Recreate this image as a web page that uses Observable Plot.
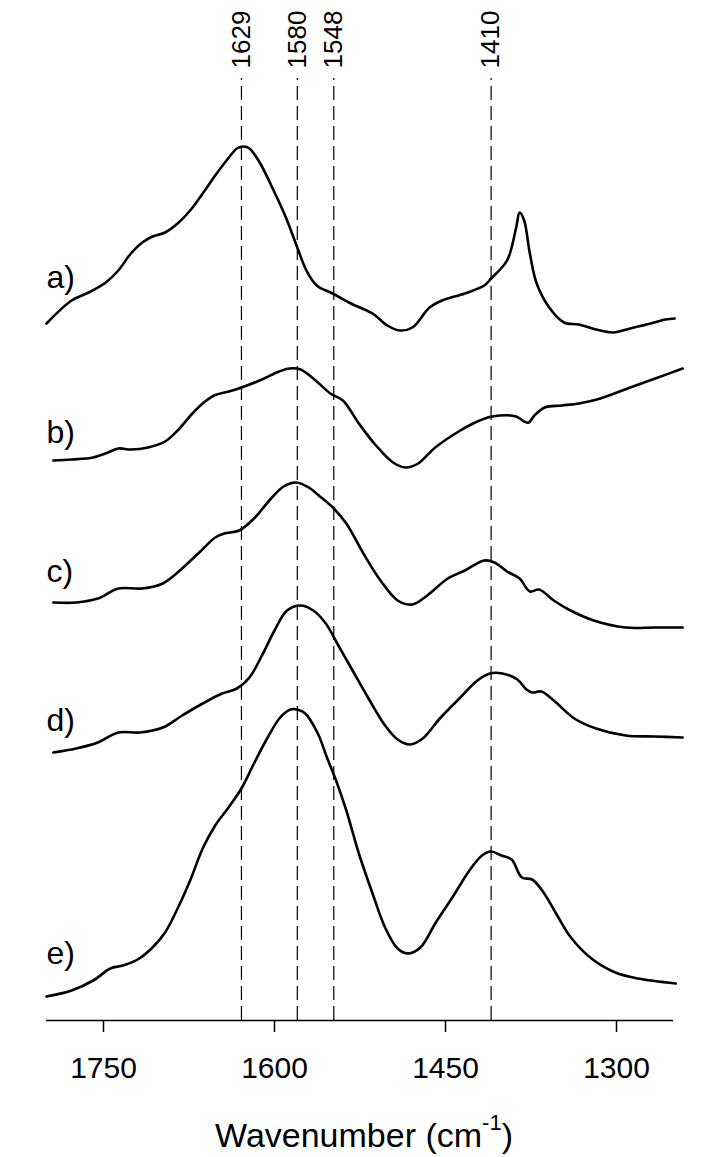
<!DOCTYPE html>
<html><head><meta charset="utf-8">
<script src="https://cdn.jsdelivr.net/npm/d3@7"></script>
<script src="https://cdn.jsdelivr.net/npm/@observablehq/plot@0.6"></script>
<style>body{margin:0;background:#fff}svg{display:block}</style>
</head><body><div id="chart"></div>
<script>
// Wavenumber (cm-1) / stacked intensity (a.u.)
const spectrumA = [[1800,69.7],[1778,72.0],[1763,72.8],[1748,73.8],[1737,75.0],[1726,76.7],[1716,77.8],[1707,78.4],[1696,78.8],[1685,79.7],[1674,81.0],[1663,82.7],[1652,84.5],[1640,86.3],[1633,87.2],[1627,87.4],[1622,87.2],[1613,85.8],[1602,83.3],[1590,80.3],[1580,77.3],[1572,75.0],[1563,73.5],[1549,72.7],[1533,71.7],[1514,70.7],[1501,69.5],[1490,69.0],[1479,69.3],[1464,71.3],[1453,72.0],[1433,72.7],[1416,73.5],[1410,74.2],[1396,76.0],[1388,79.3],[1385,80.8],[1381,80.0],[1376,76.7],[1370,73.7],[1359,71.3],[1346,69.8],[1333,69.6],[1318,69.1],[1303,68.8],[1288,69.2],[1270,69.7],[1257,70.1],[1249,70.2]];
const spectrumB = [[1794,56.0],[1778,56.1],[1759,56.3],[1746,56.8],[1737,57.2],[1726,57.1],[1711,57.3],[1696,57.9],[1685,59.0],[1672,60.7],[1663,61.7],[1653,62.5],[1640,62.9],[1629,63.3],[1611,64.1],[1596,64.9],[1587,65.2],[1577,65.1],[1563,63.9],[1551,62.7],[1540,62.0],[1526,59.7],[1511,57.5],[1496,55.8],[1485,55.3],[1474,55.7],[1459,57.3],[1437,59.0],[1422,59.9],[1409,60.4],[1388,60.4],[1381,59.9],[1377,59.8],[1372,60.5],[1363,61.3],[1348,61.5],[1333,61.7],[1314,62.2],[1288,63.3],[1266,64.2],[1242,65.2]];
const spectrumC = [[1794,41.8],[1774,41.8],[1755,42.2],[1737,43.2],[1716,43.2],[1698,43.7],[1685,44.8],[1666,46.8],[1652,48.3],[1644,48.7],[1631,49.0],[1618,50.2],[1603,52.2],[1592,53.4],[1581,53.8],[1570,53.3],[1559,52.3],[1548,51.2],[1537,49.7],[1522,46.7],[1507,44.0],[1492,42.0],[1479,41.6],[1466,42.5],[1448,44.2],[1433,45.0],[1416,46.0],[1407,45.8],[1396,44.9],[1385,44.2],[1376,42.9],[1368,43.1],[1355,42.0],[1342,41.1],[1320,40.0],[1292,39.3],[1266,39.3],[1242,39.3]];
const spectrumD = [[1794,26.8],[1774,27.2],[1755,27.8],[1737,28.8],[1718,28.8],[1698,29.3],[1681,30.5],[1663,31.7],[1646,32.7],[1633,33.2],[1622,34.3],[1611,36.5],[1600,39.0],[1589,41.0],[1577,41.5],[1566,41.0],[1555,39.7],[1544,37.5],[1533,35.3],[1518,32.3],[1503,29.5],[1492,28.1],[1481,27.6],[1470,28.2],[1455,30.2],[1437,32.3],[1422,34.0],[1411,34.7],[1400,34.7],[1387,34.1],[1379,33.1],[1374,32.8],[1366,32.9],[1355,32.0],[1337,30.2],[1318,29.2],[1292,28.5],[1266,28.4],[1242,28.3]];
const spectrumE = [[1800,2.4],[1778,3.0],[1759,4.0],[1744,5.2],[1733,5.5],[1720,6.1],[1707,7.3],[1696,8.8],[1685,11.2],[1674,14.0],[1663,17.2],[1652,19.5],[1641,21.2],[1629,23.2],[1618,25.7],[1606,28.3],[1595,30.3],[1586,31.1],[1580,31.1],[1573,30.7],[1562,28.7],[1554,26.3],[1546,24.0],[1537,21.0],[1526,16.7],[1514,12.7],[1503,9.3],[1492,7.2],[1483,6.7],[1472,7.3],[1459,9.7],[1444,12.3],[1429,15.0],[1418,16.5],[1410,16.9],[1401,16.5],[1392,16.1],[1383,14.3],[1374,14.1],[1364,12.8],[1353,10.7],[1340,8.3],[1322,6.2],[1301,4.8],[1281,4.2],[1248,3.7]];

const curveLabels = ["a)", "b)", "c)", "d)", "e)"];
const curveLabelY = [73.3, 57.8, 43.9, 29.0, 5.7];
const curveLabelX = 1800;

const peakPositions = [1629, 1580, 1548, 1410];
const peakLabels = ["1629", "1580", "1548", "1410"];
const dashTop = 94.2;
const peakLabelY = 95.2;

const xTicks = [1750, 1600, 1450, 1300];
const titleParts = ["Wavenumber (cm", "-1", ")"];

const spectra = [spectrumA, spectrumB, spectrumC, spectrumD, spectrumE];
const lineData = spectra.flatMap((pts, k) => pts.map(([x, y]) => ({name: curveLabels[k], x, y})));
const titleText = titleParts.join("");

const plot = Plot.plot({
  width: 718, height: 1157,
  marginLeft: 46, marginRight: 45, marginTop: 0, marginBottom: 137,
  style: {fontFamily: "'Liberation Sans', Arial, sans-serif", background: "#fff", color: "#000"},
  x: {domain: [1800, 1250]},
  y: {domain: [0, 102], axis: null},
  marks: [
    Plot.ruleX(peakPositions, {x: d => d, y1: () => 0, y2: () => dashTop, stroke: "#000", strokeWidth: 1.2, strokeDasharray: "14,6"}),
    Plot.text(peakLabels, {x: (d, i) => peakPositions[i], y: () => peakLabelY, text: d => d, rotate: -90, textAnchor: "start", fontSize: 26, fill: "#000"}),
    Plot.line(lineData, {x: "x", y: "y", z: "name", curve: "catmull-rom", stroke: "#000", strokeWidth: 2.6}),
    Plot.text(curveLabels, {x: () => curveLabelX, y: (d, i) => curveLabelY[i], text: d => d, textAnchor: "start", lineAnchor: "bottom", fontSize: 32, fill: "#000"}),
    Plot.ruleY([0], {stroke: "#000", strokeWidth: 1.5}),
    Plot.axisX({ticks: xTicks, tickSize: 12, tickPadding: 24, fontSize: 30, label: null, tickFormat: d => String(d), strokeWidth: 1.5, stroke: "#000", fill: "#000"}),
    Plot.text([titleText], {frameAnchor: "bottom", dy: 126, dx: 4, text: d => d, lineAnchor: "bottom", fontSize: 34, fill: "#000"})
  ]
});

d3.select(plot).selectAll("text").filter(function() { return this.textContent === titleText; }).each(function() {
  const t = d3.select(this);
  t.text(null);
  t.append("tspan").text(titleParts[0]);
  t.append("tspan").attr("dy", -17).attr("font-size", 22).text(titleParts[1]);
  t.append("tspan").attr("dy", 17).text(titleParts[2]);
});

document.getElementById("chart").appendChild(plot);
</script>
</body></html>
